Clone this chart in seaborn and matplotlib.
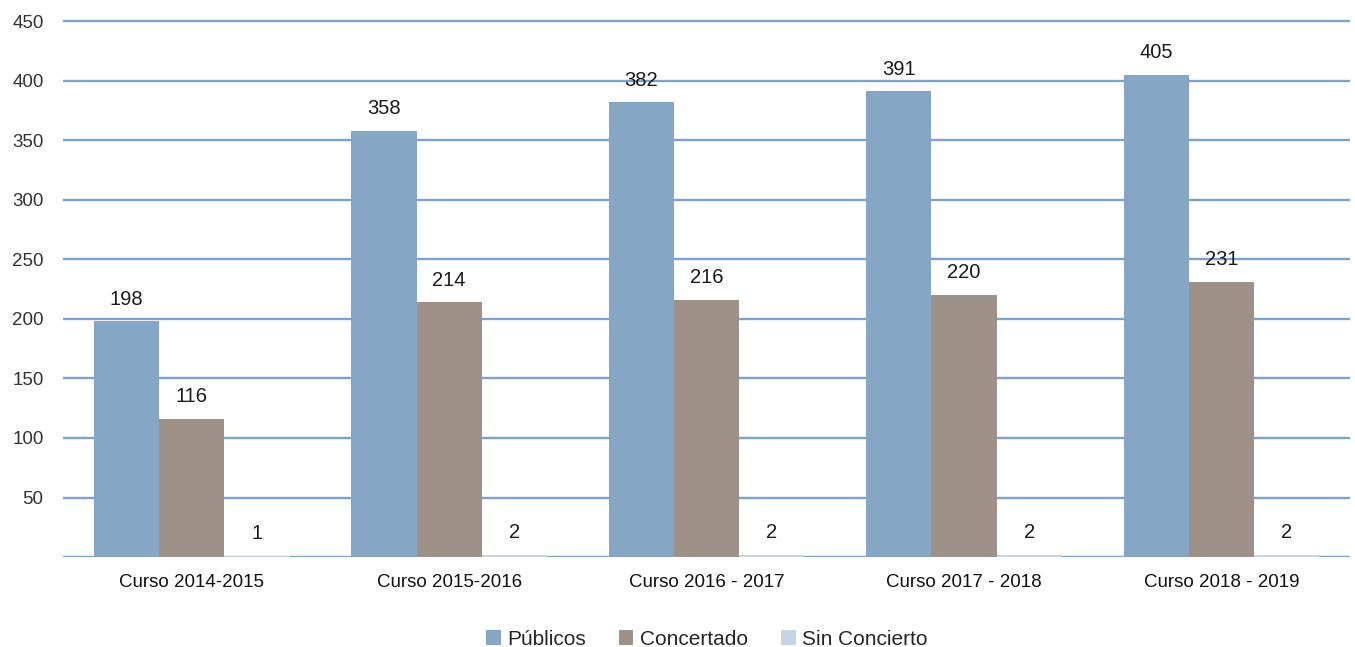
import pandas as pd
import numpy as np
import matplotlib.pyplot as plt
import seaborn as sns

cursos = ['Curso 2014-2015', 'Curso 2015-2016', 'Curso 2016 - 2017', 'Curso 2017 - 2018', 'Curso 2018 - 2019']
publicos = [198, 358, 382, 391, 405]
concertado = [116, 214, 216, 220, 231]
sin_concierto = [1, 2, 2, 2, 2]
series = ['Públicos', 'Concertado', 'Sin Concierto']
colores = ['#86a6c5', '#9d9188', '#c5d5e2']

df = pd.DataFrame({
    'curso': cursos * 3,
    'serie': [s for s in series for _ in cursos],
    'valor': publicos + concertado + sin_concierto,
})

sns.set_theme(style="white")
plt.rcParams['font.family'] = ['Liberation Sans', 'DejaVu Sans']

fig = plt.figure(figsize=(13.55, 6.47), dpi=100)
ax = fig.add_axes([0.0465, 0.139, 0.95, 0.8322])

sns.barplot(data=df, x='curso', y='valor', hue='serie', hue_order=series,
            palette=colores, width=0.76, saturation=1, ax=ax, zorder=3,
            linewidth=0, edgecolor='none')

for cont in ax.containers:
    ax.bar_label(cont, padding=9, fontsize=14.5, color='#1a1a1a')

# un poco de margen arriba para que la línea de 450 no quede cortada
ax.set_ylim(0, 452)
ax.set_yticks(range(50, 451, 50))
ax.set_xlim(-0.5, 4.5)
ax.yaxis.grid(True, color='#7da2c8', linewidth=1.7, zorder=0)
ax.axhline(0, color='#7da2c8', linewidth=1.7, zorder=1)
for s in ax.spines.values():
    s.set_visible(False)
ax.tick_params(axis='y', labelsize=13.5, labelcolor='#333333', pad=14, length=0)
ax.tick_params(axis='x', labelsize=13.5, labelcolor='#111111', pad=12, length=0)
ax.set_xlabel('')
ax.set_ylabel('')

ax.legend(loc='upper center', bbox_to_anchor=(0.5, -0.1), ncol=3, frameon=False,
          fontsize=15, handlelength=0.7, handleheight=0.7, handletextpad=0.3,
          columnspacing=1.6)

fig.savefig('out.png', dpi=100)
